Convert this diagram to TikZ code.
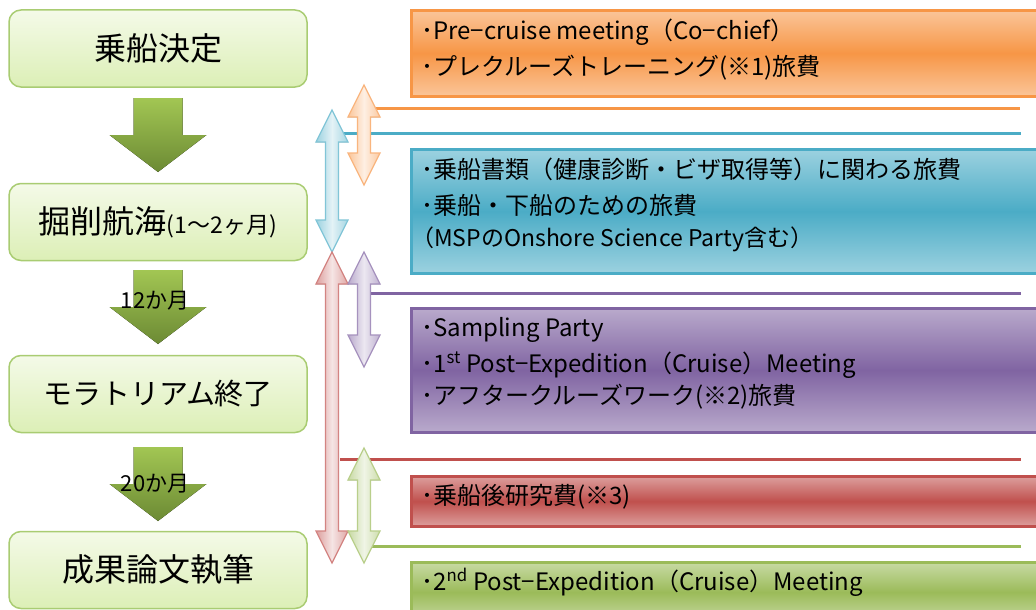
\documentclass[tikz,border=0pt]{standalone}
\usepackage{fontspec}
\setmainfont{Noto Sans CJK JP}
\definecolor{orng}{HTML}{F79646}
\definecolor{blu}{HTML}{4BACC6}
\definecolor{purp}{HTML}{8064A2}
\definecolor{rd}{HTML}{C0504D}
\definecolor{grn}{HTML}{9BBB59}
\definecolor{grntop}{HTML}{A2C653}
\definecolor{grndk}{HTML}{6C8A34}
\definecolor{lboxtop}{HTML}{F4FAE8}
\definecolor{lboxbot}{HTML}{DCEFB6}
\definecolor{lboxline}{HTML}{A9CC72}
\newcommand\mydbl[4]{%
  \filldraw[dblarr=#1] (#2,#3) -- (#2+16,#3+32) -- (#2+6.5,#3+32) -- (#2+6.5,#4-32)
    -- (#2+16,#4-32) -- (#2,#4) -- (#2-16,#4-32) -- (#2-6.5,#4-32) -- (#2-6.5,#3+32)
    -- (#2-16,#3+32) -- cycle;}
\newcommand\mydown[2]{%
  \fill[downarr] (#1-24.5,#2) -- (#1+24.5,#2) -- (#1+24.5,#2+37) -- (#1+48.5,#2+37)
    -- (#1,#2+74) -- (#1-48.5,#2+37) -- (#1-24.5,#2+37) -- cycle;}
\begin{document}
\begin{tikzpicture}[x=1pt,y=-1pt,
  leftbox/.style={draw=lboxline, line width=1.5pt, rounded corners=12pt,
    top color=lboxtop, bottom color=lboxbot,
    minimum width=298pt, minimum height=77pt, inner sep=0pt,
    font=\fontsize{32}{38}\selectfont},
  rbox/.style={draw=#1, line width=2.6pt, top color=#1!55!white,
    bottom color=#1!55!white, middle color=#1, anchor=north west,
    minimum width=640pt, inner sep=0pt},
  rtext/.style={anchor=west, inner sep=0pt, align=left,
    font=\fontsize{24}{36}\selectfont},
  hline/.style={draw=#1, line width=3pt},
  dblarr/.style={draw=#1!70!white, line width=1.3pt, left color=#1!55!white,
    right color=#1!50!white, middle color=#1!15!white},
  downarr/.style={top color=grntop, bottom color=grndk},
  lbl/.style={inner sep=0pt, font=\fontsize{22}{26}\selectfont}]
\clip (0,0) rectangle (1036,610);
\fill[white] (0,0) rectangle (1036,610);

% left column
\node[leftbox] (b1) at (158,48.5) {乗船決定};
\node[leftbox] (b2) at (158,222) {掘削航海{\fontsize{23}{26}\selectfont (1〜2ヶ月)}};
\node[leftbox, font=\fontsize{29}{34}\selectfont] (b3) at (158,394) {モラトリアム終了};
\node[leftbox] (b4) at (158,570) {成果論文執筆};

\mydown{158}{98}
\mydown{158}{270}
\mydown{158}{447}
\node[lbl] (l12) at (155,301) {12か月};
\node[lbl] (l20) at (155,484) {20か月};

% right boxes
\node[rbox=orng, minimum height=86pt] (ob) at (410,9) {};
\node[rbox=blu, minimum height=124pt] (bb) at (410,148) {};
\node[rbox=purp, minimum height=124pt] (pb) at (410,307) {};
\node[rbox=rd, minimum height=50pt] (rb) at (410,475) {};
\node[rbox=grn, minimum height=60pt] (gb) at (410,561) {};

\node[rtext] (ot) at (421,50) {･Pre−cruise meeting（Co−chief）\\･プレクルーズトレーニング(※1)旅費};
\node[rtext] (bt) at (421,205) {･乗船書類（健康診断・ビザ取得等）に関わる旅費\\･乗船・下船のための旅費\\[-4pt]{\fontsize{23}{26}\selectfont\hspace*{-10pt}（MSPのOnshore Science Party含む）}};
\node[rtext] (pt) at (421,363) {･Sampling Party\\･1\textsuperscript{st} Post−Expedition（Cruise）Meeting\\[-4pt]･アフタークルーズワーク(※2)旅費};
\node[rtext] (rt) at (421,497) {･乗船後研究費(※3)};
\node[rtext] (gt) at (421,582) {･2\textsuperscript{nd} Post−Expedition（Cruise）Meeting};

% horizontal lines
\coordinate (oL) at (372,108); \coordinate (oR) at (1020,108);
\coordinate (uL) at (340,133); \coordinate (uR) at (1021,133);
\coordinate (pL) at (370,293); \coordinate (pR) at (1021,293);
\coordinate (rL) at (340,459); \coordinate (rR) at (1021,459);
\coordinate (gL) at (370,546); \coordinate (gR) at (1021,546);
\draw[hline=orng] (oL) -- (oR);
\draw[hline=blu] (uL) -- (uR);
\draw[hline=purp] (pL) -- (pR);
\draw[hline=rd] (rL) -- (rR);
\draw[hline=grn] (gL) -- (gR);

% double arrows
\mydbl{orng}{364}{85}{185}
\mydbl{blu}{332}{110}{252}
\mydbl{rd}{332}{252}{563}
\mydbl{purp}{364}{252}{367}
\mydbl{grn}{364}{448}{563}
\end{tikzpicture}
\end{document}
